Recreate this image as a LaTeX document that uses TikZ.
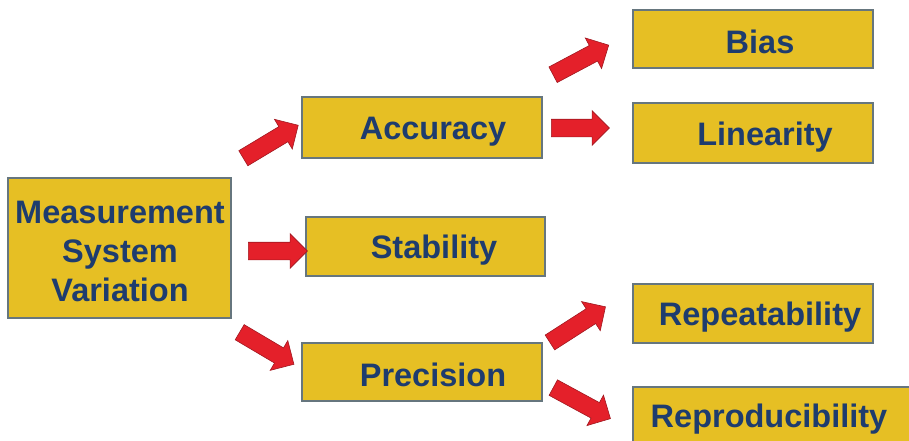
\documentclass[tikz,border=0pt]{standalone}
\usepackage{fontspec}
\setmainfont{Liberation Sans}
\usetikzlibrary{shapes.arrows}
\definecolor{boxfill}{HTML}{E6BF24}
\definecolor{boxline}{HTML}{66767E}
\definecolor{txt}{HTML}{1E3C6E}
\definecolor{arrfill}{HTML}{E4202A}
\definecolor{arrline}{HTML}{A01820}
\tikzset{
  box/.style={draw=boxline, line width=1.2pt, fill=boxfill, inner sep=0pt},
  lbl/.style={text=txt, font=\fontsize{32.5}{39}\selectfont\bfseries, inner sep=0pt, align=center},
  barrow/.style={single arrow, draw=arrline, line width=0.6pt, fill=arrfill, inner xsep=0pt, inner ysep=8.5pt,
    single arrow head extend=8.5pt, anchor=center}
}
\begin{document}
\begin{tikzpicture}[x=1pt,y=-1pt]
\useasboundingbox (0,0) rectangle (909,440);
% boxes
\node[box, minimum width=223pt, minimum height=140pt] (msv) at (119.5,248) {};
\node[box, minimum width=240pt, minimum height=61pt] (acc) at (422,127.5) {};
\node[box, minimum width=239pt, minimum height=59pt] (stab) at (425.5,246.5) {};
\node[box, minimum width=240pt, minimum height=58pt] (prec) at (422,372) {};
\node[box, minimum width=240pt, minimum height=58pt] (bias) at (753,39) {};
\node[box, minimum width=240pt, minimum height=60pt] (lin) at (753,133) {};
\node[box, minimum width=240pt, minimum height=59pt] (rep) at (753,313.5) {};
\node[box, minimum width=280pt, minimum height=58pt] (repro) at (773,416) {};
% labels
\node[lbl] (tmsv) at (120,251) {Measurement\\System\\Variation};
\node[lbl] (tacc) at (433,132) {Accuracy};
\node[lbl] (tstab) at (434,250) {Stability};
\node[lbl] (tprec) at (433,375) {Precision};
\node[lbl] (tbias) at (760,42) {Bias};
\node[lbl] (tlin) at (765,137) {Linearity};
\node[lbl] (trep) at (760,317) {Repeatability};
\node[lbl] (trepro) at (769,419) {Reproducibility};
% block arrows
\node[barrow, minimum height=64pt, rotate=31] (a1) at (267,144) {};
\node[barrow, minimum height=59pt] (a2) at (273.5,251) {};
\node[barrow, minimum height=63pt, rotate=-30.6] (a3) at (263,346) {};
\node[barrow, minimum height=63pt, rotate=28] (a4) at (577,62) {};
\node[barrow, minimum height=58pt] (a5) at (576,128) {};
\node[barrow, minimum height=66pt, rotate=32.7] (a6) at (574,327) {};
\node[barrow, minimum height=65pt, rotate=-28.5] (a7) at (578,401) {};
\end{tikzpicture}
\end{document}
